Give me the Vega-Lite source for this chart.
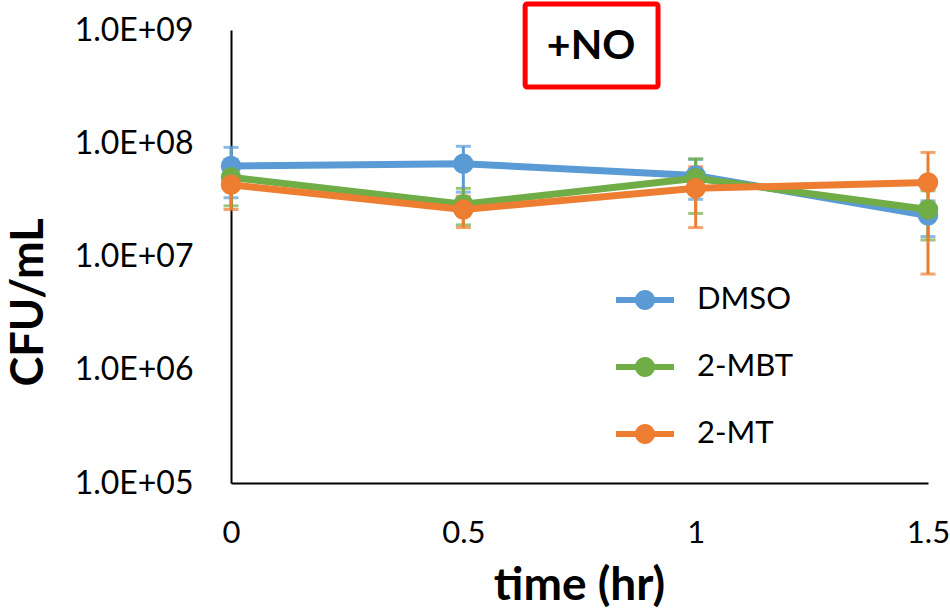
{
  "$schema": "https://vega.github.io/schema/vega-lite/v6.json",
  "autosize": {"type": "none"},
  "padding": {"left": 231, "top": 30, "right": 22, "bottom": 133},
  "width": 697,
  "height": 453,
  "background": "white",
  "config": {
    "font": "Lato",
    "view": {"stroke": null},
    "axis": {"grid": false, "ticks": false, "tickSize": 0, "domainColor": "#000000", "domainWidth": 2, "labelColor": "#000000", "titleColor": "#000000", "labelFont": "Lato", "titleFont": "Lato"}
  },
  "data": {
    "values": [
      {"time": 0, "series": "DMSO", "cfu": 6.3e7, "lo": 3.3e7, "hi": 9.2e7},
      {"time": 0.5, "series": "DMSO", "cfu": 6.6e7, "lo": 3.7e7, "hi": 9.4e7},
      {"time": 1, "series": "DMSO", "cfu": 5.2e7, "lo": 3.2e7, "hi": 7.2e7},
      {"time": 1.5, "series": "DMSO", "cfu": 2.3e7, "lo": 1.5e7, "hi": 3.1e7},
      {"time": 0, "series": "2-MBT", "cfu": 5.0e7, "lo": 2.8e7, "hi": 7.2e7},
      {"time": 0.5, "series": "2-MBT", "cfu": 2.9e7, "lo": 1.9e7, "hi": 4.0e7},
      {"time": 1, "series": "2-MBT", "cfu": 4.9e7, "lo": 2.4e7, "hi": 7.3e7},
      {"time": 1.5, "series": "2-MBT", "cfu": 2.6e7, "lo": 1.4e7, "hi": 3.8e7},
      {"time": 0, "series": "2-MT", "cfu": 4.3e7, "lo": 2.6e7, "hi": 6.0e7},
      {"time": 0.5, "series": "2-MT", "cfu": 2.6e7, "lo": 1.8e7, "hi": 3.4e7},
      {"time": 1, "series": "2-MT", "cfu": 4.0e7, "lo": 1.8e7, "hi": 6.2e7},
      {"time": 1.5, "series": "2-MT", "cfu": 4.5e7, "lo": 0.7e7, "hi": 8.3e7}
    ]
  },
  "layer": [
    {
      "mark": {"type": "errorbar", "thickness": 3, "ticks": {"size": 15, "thickness": 3}},
      "encoding": {
        "x": {"field": "time", "type": "quantitative", "title": "time (hr)"},
        "y": {"field": "lo", "type": "quantitative", "title": "CFU/mL"},
        "y2": {"field": "hi"},
        "color": {"field": "series", "type": "nominal"}
      }
    },
    {
      "mark": {"type": "line", "strokeWidth": 7, "point": {"size": 420, "filled": true, "opacity": 1}},
      "encoding": {
        "x": {
          "field": "time", "type": "quantitative",
          "scale": {"domain": [0, 1.5], "nice": false, "zero": false},
          "axis": {"values": [0, 0.5, 1, 1.5], "format": "~g", "labelFlush": false, "labelFontSize": 31, "labelPadding": 50, "labelBaseline": "middle", "title": "time (hr)", "titleFontSize": 46, "titleFontWeight": "bold", "titleBaseline": "middle", "titleY": 102, "titleX": 348, "titleAnchor": "middle"}
        },
        "y": {
          "field": "cfu", "type": "quantitative",
          "scale": {"type": "log", "domain": [1e5, 1e9], "nice": false},
          "axis": {"values": [1e5, 1e6, 1e7, 1e8, 1e9], "labelExpr": "'1.0E+0' + round(log(datum.value) / LN10)", "labelFontSize": 32, "labelPadding": 38, "labelBaseline": "middle", "title": "CFU/mL", "titleFontSize": 45, "titleFontWeight": "bold", "titleAngle": -90, "titleBaseline": "middle", "titleAlign": "center", "titleX": -203, "titleY": 272}
        },
        "color": {
          "field": "series", "type": "nominal",
          "scale": {"domain": ["DMSO", "2-MBT", "2-MT"], "range": ["#5B9BD5", "#70AD47", "#ED7D31"]},
          "legend": {
            "orient": "none", "legendX": 385, "legendY": 241, "title": null, "padding": 0,
            "symbolType": "M-1,-0.1L1,-0.1L1,0.1L-1,0.1Z M0.345,0A0.345,0.345,0,1,1,-0.345,0A0.345,0.345,0,1,1,0.345,0Z",
            "symbolSize": 3364, "symbolStrokeWidth": 0,
            "labelFontSize": 31, "labelFont": "Lato", "labelColor": "#000000", "labelOffset": 23, "rowPadding": 23,
            "encode": {"symbols": {"update": {"fill": {"scale": "color", "field": "value"}, "fillOpacity": {"value": 1}, "strokeWidth": {"value": 0}}}}
          }
        }
      }
    },
    {
      "data": {"values": [{}]},
      "mark": {"type": "rect", "filled": false, "stroke": "#FF0000", "strokeWidth": 5, "cornerRadius": 2},
      "encoding": {
        "x": {"datum": 0.633},
        "x2": {"datum": 0.919},
        "y": {"datum": 1.7e9},
        "y2": {"datum": 3.14e8}
      }
    },
    {
      "data": {"values": [{}]},
      "mark": {"type": "text", "text": "+NO", "fontSize": 41, "fontWeight": "bold", "font": "Lato", "color": "#000000", "align": "center", "baseline": "middle"},
      "encoding": {
        "x": {"datum": 0.775},
        "y": {"datum": 7.08e8}
      }
    }
  ]
}
